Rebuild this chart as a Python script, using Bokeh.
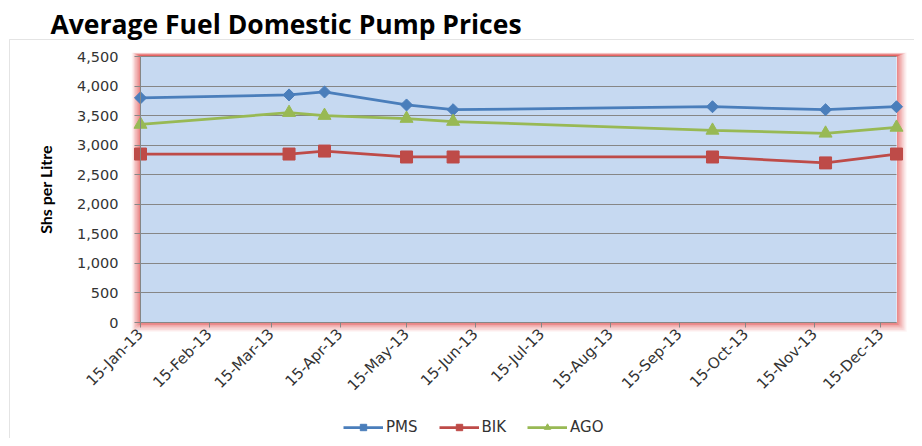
import math
import pandas as pd
from bokeh.plotting import figure
from bokeh.models import (Range1d, FixedTicker, NumeralTickFormatter, DatetimeTickFormatter,
                          BoxAnnotation, Label, Legend, LegendItem, ColumnDataSource)
from bokeh.embed import file_html
from bokeh.resources import INLINE

# ---------------- data ----------------
title_text = "Average Fuel Domestic Pump Prices"
y_label = "Shs per Litre"
dates = ["2013-01-15", "2013-03-23", "2013-04-08", "2013-05-15",
         "2013-06-05", "2013-09-30", "2013-11-20", "2013-12-22"]
pms = [3800, 3850, 3900, 3680, 3600, 3650, 3600, 3650]
bik = [2850, 2850, 2900, 2800, 2800, 2800, 2700, 2850]
ago = [3350, 3550, 3500, 3450, 3400, 3250, 3200, 3300]
series_names = ["PMS", "BIK", "AGO"]
x_tick_dates = ["2013-01-15", "2013-02-15", "2013-03-15", "2013-04-15", "2013-05-15",
                "2013-06-15", "2013-07-15", "2013-08-15", "2013-09-15", "2013-10-15",
                "2013-11-15", "2013-12-15"]
y_ticks = [0, 500, 1000, 1500, 2000, 2500, 3000, 3500, 4000, 4500]
y_min, y_max = 0, 4500

# ---------------- layout (pixels, top-down) ----------------
W, H = 914, 438
PX_L, PX_R, PX_T, PX_B = 140, 896, 56, 322   # plot area

def to_ms(s):
    return pd.Timestamp(s).value / 1e6

t0, t1 = to_ms(dates[0]), to_ms(dates[-1])
ppx = (PX_R - PX_L) / (t1 - t0)
ppy = (PX_B - PX_T) / (y_max - y_min)
x_range = Range1d(t0 - PX_L / ppx, t1 + (W - PX_R) / ppx)
y_range = Range1d(y_min - (H - PX_B) / ppy, y_max + PX_T / ppy)

src = ColumnDataSource(dict(x=pd.to_datetime(dates), pms=pms, bik=bik, ago=ago))

p = figure(width=W, height=H, x_axis_type="datetime", x_range=x_range, y_range=y_range,
           output_backend="svg", toolbar_location=None,
           min_border_left=0, min_border_right=0, min_border_top=0, min_border_bottom=0)
p.background_fill_color = "white"
p.border_fill_color = "white"
p.outline_line_color = None

def sbox(left, right, top, bottom, **kw):
    # pixel box (top-down coords) -> screen-unit BoxAnnotation
    return BoxAnnotation(left=left, right=right, top=H - top, bottom=H - bottom,
                         left_units="screen", right_units="screen",
                         top_units="screen", bottom_units="screen", **kw)

# outer chart border
p.add_layout(sbox(9, W + 50, 39, H + 50, fill_alpha=0, line_color="#A6A6A6",
                  line_width=1, level="image"))

# glow around plot area
n_rings = 10
for k in range(1, n_rings + 1):
    a = 0.6 * (1 - (k - 1) / n_rings) ** 1.3
    p.add_layout(sbox(PX_L - 0.85 * k, PX_R + 1.0 * k, PX_T - 0.35 * k, PX_B + 0.9 * k,
                      fill_alpha=0, line_color="#E04848", line_alpha=a,
                      line_width=1.2, level="image"))

# plot area background
p.add_layout(BoxAnnotation(left=t0, right=t1, bottom=y_min, top=y_max,
                           fill_color="#C6D9F1", fill_alpha=1, line_color=None,
                           level="image"))

# grid
p.xgrid.grid_line_color = None
p.ygrid.grid_line_color = "#868686"
p.ygrid.grid_line_width = 1
p.ygrid.bounds = (y_min, y_max)
p.ygrid.cross_bounds = (t0, t1)

# axes
p.yaxis.fixed_location = t0
p.xaxis.fixed_location = y_min
p.yaxis.bounds = (y_min, y_max)
p.xaxis.bounds = (t0, t1)
p.yaxis.ticker = FixedTicker(ticks=y_ticks)
p.yaxis.formatter = NumeralTickFormatter(format="0,0")
p.xaxis.ticker = FixedTicker(ticks=[to_ms(d) for d in x_tick_dates])
fmt = "%d-%b-%y"
p.xaxis.formatter = DatetimeTickFormatter(days=fmt, months=fmt, years=fmt, hours=fmt)
for ax in (p.xaxis, p.yaxis):
    ax.axis_line_color = "#868686"
    ax.major_tick_line_color = "#868686"
    ax.minor_tick_line_color = None
    ax.major_tick_in = 0
    ax.major_label_text_font = "DejaVu Sans"
    ax.major_label_text_color = "#333333"
p.yaxis.major_label_text_font_size = "14.5px"
p.xaxis.major_label_text_font_size = "15px"
p.yaxis.major_tick_out = 6
p.yaxis.major_label_standoff = 16
p.xaxis.major_tick_out = 5
p.xaxis.major_label_standoff = 4
p.xaxis.major_label_orientation = math.pi / 4

p.yaxis.axis_label = y_label
p.yaxis.axis_label_text_font = "Lato"
p.yaxis.axis_label_text_font_style = "bold"
p.yaxis.axis_label_text_font_size = "16px"
p.yaxis.axis_label_text_color = "black"
p.yaxis.axis_label_standoff = 19

# series
colors = {"PMS": "#4A7EBB", "BIK": "#BE4B48", "AGO": "#98B954"}
l1 = p.line("x", "pms", source=src, line_color=colors["PMS"], line_width=2.75)
m1 = p.scatter("x", "pms", source=src, marker="square", angle=math.pi / 4, size=8.5,
               fill_color=colors["PMS"], line_color=colors["PMS"])
l2 = p.line("x", "bik", source=src, line_color=colors["BIK"], line_width=2.75)
m2 = p.scatter("x", "bik", source=src, marker="square", size=12,
               fill_color=colors["BIK"], line_color=colors["BIK"])
l3 = p.line("x", "ago", source=src, line_color=colors["AGO"], line_width=2.75)
m3 = p.scatter("x", "ago", source=src, marker="triangle", size=13,
               fill_color=colors["AGO"], line_color=colors["AGO"])

legend = Legend(items=[LegendItem(label=series_names[0], renderers=[l1, m1]),
                       LegendItem(label=series_names[1], renderers=[l2, m2]),
                       LegendItem(label=series_names[2], renderers=[l3, m3])],
                orientation="horizontal", location=(343, H - 436),
                glyph_width=40, glyph_height=16, label_standoff=3, spacing=21,
                padding=0, margin=0, border_line_color=None, background_fill_alpha=0,
                label_text_font="DejaVu Sans", label_text_font_size="15px",
                label_text_color="#333333")
p.add_layout(legend, "center")

# title
p.add_layout(Label(x=50, y=H - 23, x_units="screen", y_units="screen",
                   text=title_text, text_font="Open Sans", text_font_style="bold",
                   text_font_size="26.5px", text_baseline="alphabetic", text_color="black"))

open("out.html", "w").write(file_html(p, INLINE))
